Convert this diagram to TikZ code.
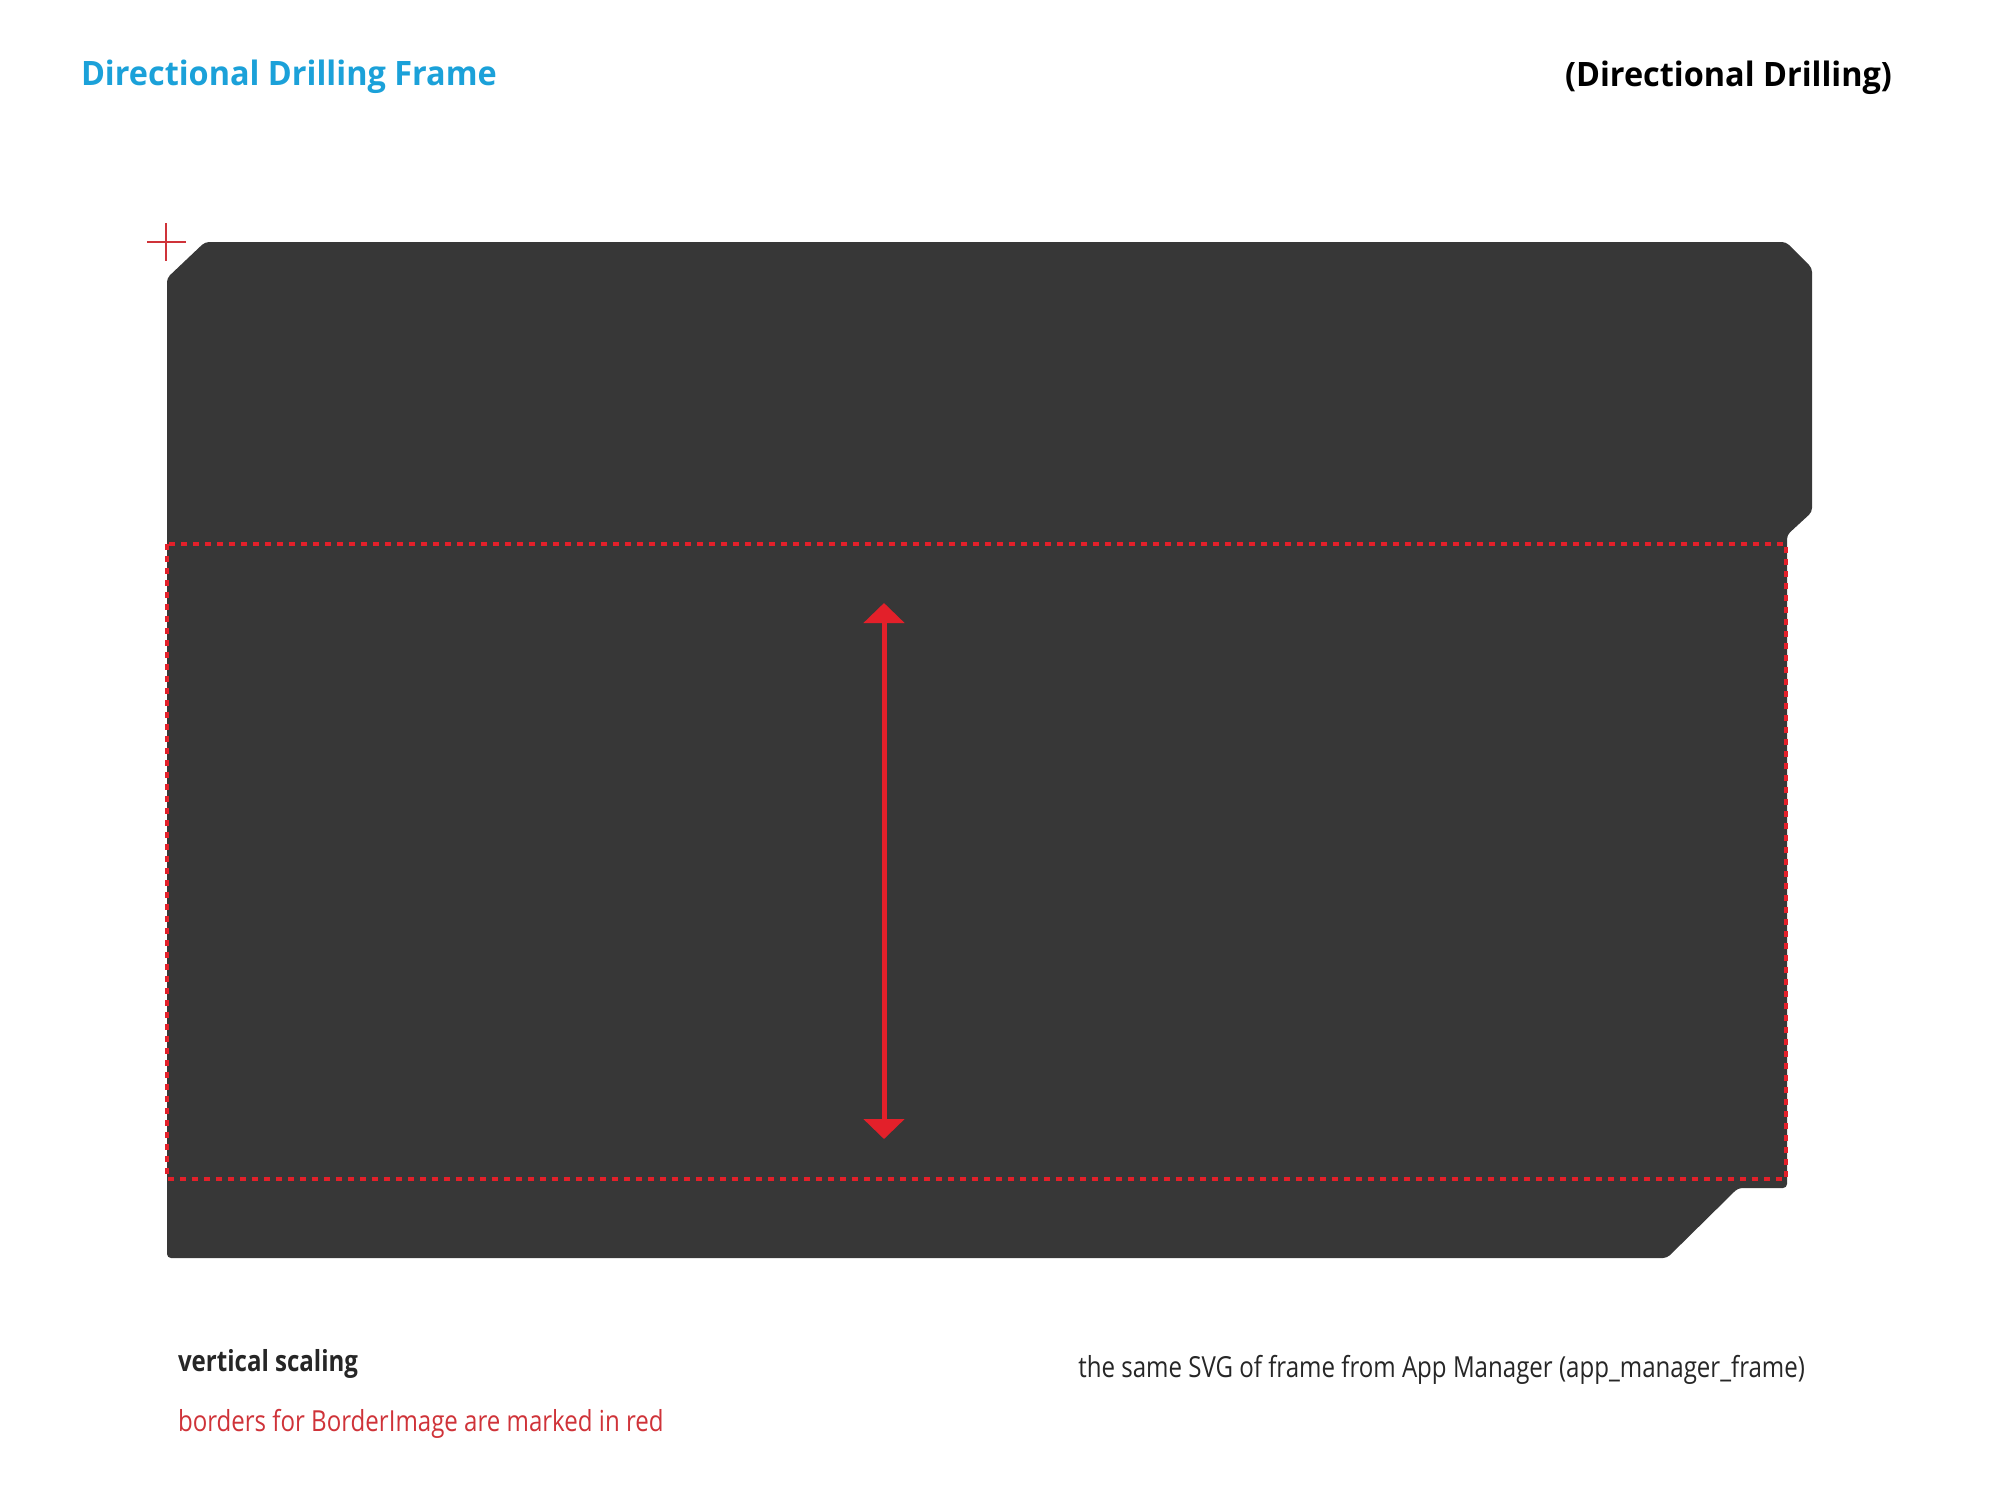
\documentclass[tikz,border=0pt]{standalone}
\usepackage{fontspec}
\setmainfont{Open Sans}
\newfontfamily\headfont[FakeStretch=0.965]{Open Sans}
\newfontfamily\notefont[FakeStretch=0.83]{Open Sans}
\usetikzlibrary{arrows.meta}
\definecolor{titleblue}{RGB}{27,161,217}
\definecolor{framegray}{RGB}{55,55,55}
\definecolor{markred}{RGB}{227,32,42}
\definecolor{notered}{RGB}{207,51,57}
\definecolor{notedark}{RGB}{38,38,38}
\begin{document}
\begin{tikzpicture}[x=0.5pt,y=-0.5pt,inner sep=0pt,outer sep=0pt]
        \useasboundingbox (0,0) rectangle (2000,1500);
        \fill[framegray,rounded corners=2pt] (167,278) -- (205,242) -- (1786,242) -- (1812,268)
            -- (1812,512) -- (1787,535) -- (1787,1188) -- (1738,1188) -- (1667,1258)
            -- (167,1258) -- cycle;
        \draw[markred,line width=2pt,dash pattern=on 3pt off 3pt] (167,544) rectangle (1786,1179);
        \begin{scope}[notered,line width=0.8pt]
            \draw (147,242)--(186,242);
            \draw (166,223)--(166,261);
        \end{scope}
        \coordinate (top) at (884,603);
        \coordinate (bot) at (884,1139);
        \draw[markred,line width=2.5pt,{Triangle[width=20pt,length=10pt]}-{Triangle[width=20pt,length=10pt]}] (top)--(bot);
        \begin{scope}[every node/.style={anchor=base west}]
            \node[titleblue,font=\headfont\bfseries\fontsize{16.8}{20}\selectfont] (title) at (81,85) {Directional Drilling Frame};
            \node[notedark,font=\notefont\bfseries\fontsize{14.5}{18}\selectfont] (scaling) at (178,1371) {vertical scaling};
            \node[notered,font=\notefont\fontsize{14.5}{18}\selectfont] (borders) at (178,1431) {borders for BorderImage are marked in red};
        \end{scope}
        \begin{scope}[every node/.style={anchor=base east}]
            \node[black,font=\headfont\bfseries\fontsize{16.8}{20}\selectfont] (subtitle) at (1892,86) {(Directional Drilling)};
            \node[notedark,font=\notefont\fontsize{14.5}{18}\selectfont] (source) at (1805,1377) {the same SVG of frame from App Manager (app\_manager\_frame)};
        \end{scope}
    \end{tikzpicture}
\end{document}
